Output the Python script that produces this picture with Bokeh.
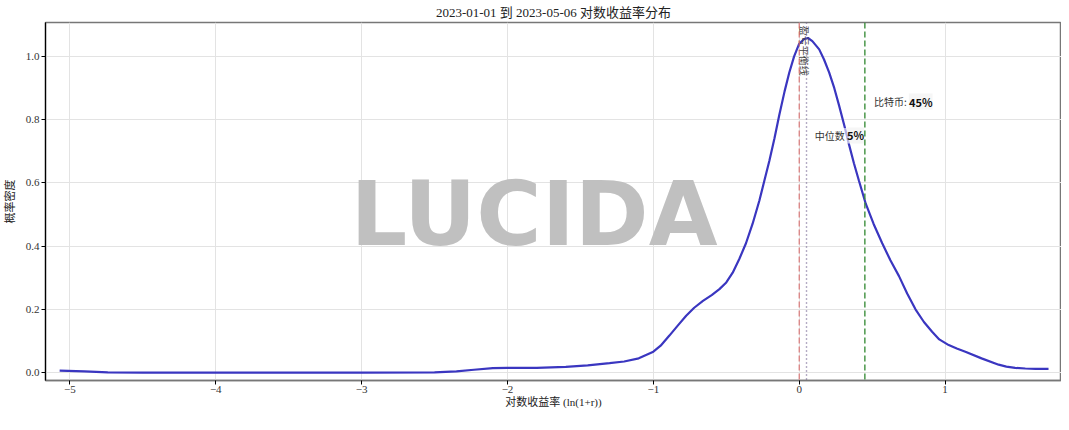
import math
from bokeh.plotting import figure
from bokeh.models import Range1d, Span, FixedTicker, Title
from bokeh.core.properties import value
from bokeh.embed import file_html
from bokeh.resources import INLINE

# ---- data ----
kde_x = [-5.07, -4.9, -4.74, -4.5, -4.0, -3.5, -3.0, -2.5, -2.35, -2.23, -2.1, -2.0,
         -1.8, -1.6, -1.45, -1.3, -1.2, -1.1, -1.0, -0.95, -0.89, -0.83, -0.775, -0.72,
         -0.66, -0.6, -0.547, -0.5, -0.456, -0.41, -0.365, -0.32, -0.273, -0.24, -0.205,
         -0.17, -0.137, -0.1, -0.068, -0.035, 0.0, 0.034, 0.06, 0.09, 0.137, 0.17, 0.205,
         0.24, 0.273, 0.31, 0.342, 0.375, 0.41, 0.456, 0.51, 0.569, 0.625, 0.684, 0.74,
         0.797, 0.855, 0.911, 0.96, 1.025, 1.08, 1.139, 1.25, 1.367, 1.42, 1.48, 1.55,
         1.62, 1.709]
kde_y = [0.006, 0.004, 0.001, 0.0, 0.0, 0.0, 0.0, 0.001, 0.004, 0.009, 0.014, 0.015,
         0.015, 0.018, 0.023, 0.03, 0.035, 0.045, 0.066, 0.085, 0.117, 0.15, 0.18, 0.205,
         0.227, 0.245, 0.264, 0.285, 0.316, 0.36, 0.409, 0.47, 0.544, 0.605, 0.669,
         0.74, 0.814, 0.89, 0.949, 1.0, 1.04, 1.055, 1.058, 1.048, 1.022, 0.99, 0.949,
         0.9, 0.845, 0.78, 0.72, 0.662, 0.606, 0.534, 0.47, 0.409, 0.355, 0.305, 0.25,
         0.2, 0.16, 0.129, 0.105, 0.087, 0.076, 0.066, 0.045, 0.025, 0.019, 0.015, 0.013,
         0.012, 0.012]
breakeven = 0.0
median_ret = 0.05
btc_ret = 0.45
median_label = "5%"
btc_label = "45%"
x_ticks = [-5, -4, -3, -2, -1, 0, 1]
y_ticks = [0.0, 0.2, 0.4, 0.6, 0.8, 1.0]

title_text = "2023-01-01 到 2023-05-06 对数收益率分布"
xlabel = "对数收益率 (ln(1+r))"
ylabel = "概率密度"

SERIF = "Liberation Serif, Noto Sans CJK SC"
CJK = "Noto Sans CJK SC"

p = figure(width=1061, height=414, output_backend="svg", toolbar_location=None,
           x_range=Range1d(-5.167, 1.798), y_range=Range1d(-0.025, 1.107),
           min_border_left=42, min_border_right=0, min_border_top=19, min_border_bottom=34)

p.title = Title(text=title_text, align="center", text_font=SERIF, text_font_size="13px",
                text_font_style="normal", text_color="#222222", standoff=5, offset=0)

p.background_fill_color = "white"
p.outline_line_color = "#777777"
p.outline_line_width = 1.5

p.xaxis.ticker = FixedTicker(ticks=x_ticks)
p.yaxis.ticker = FixedTicker(ticks=y_ticks)
p.xaxis.major_label_overrides = {t: ("\u2212" + str(abs(t)) if t < 0 else str(t)) for t in x_ticks}
p.yaxis.major_label_overrides = {t: f"{t:.1f}" for t in y_ticks}
for ax in (p.xaxis, p.yaxis):
    ax.minor_tick_line_color = None
    ax.major_tick_out = 4
    ax.major_tick_in = 0
    ax.major_label_text_font = SERIF
    ax.major_label_text_font_size = "11px"
    ax.major_label_text_color = "#333333"
    ax.axis_label_text_font = SERIF
    ax.axis_label_text_font_size = "11px"
    ax.axis_label_text_font_style = "normal"
    ax.axis_label_text_color = "#222222"
p.xaxis.axis_label = xlabel
p.yaxis.axis_label = ylabel
p.xaxis.axis_line_color = "#777777"
p.xaxis.axis_line_width = 1.5
p.yaxis.axis_line_color = "black"
p.yaxis.axis_line_width = 1.2
p.xaxis.major_label_standoff = 1
p.yaxis.major_label_standoff = 2
p.xaxis.axis_label_standoff = 0
p.yaxis.axis_label_standoff = 7

p.xgrid.grid_line_color = "#e3e3e3"
p.ygrid.grid_line_color = "#e3e3e3"

# watermark
p.text(x=[-1.818], y=[0.502], text=["LUCIDA"], text_font=value("DejaVu Sans"),
       text_font_style="bold", text_font_size="89px", text_color="#c0c0c0",
       text_align="center", text_baseline="middle")

# vertical reference lines
p.add_layout(Span(location=breakeven, dimension="height", line_color="#d66a6a",
                  line_dash="6 3", line_width=1.2, line_alpha=0.9))
p.add_layout(Span(location=median_ret, dimension="height", line_color="#6a5a8a",
                  line_dash="1 3", line_width=1.4))
p.add_layout(Span(location=btc_ret, dimension="height", line_color="#3d8f3d",
                  line_dash="6 3", line_width=1.4))

# KDE curve
p.line(kde_x, kde_y, line_color="#3a36c0", line_width=2.2)

# break-even label (vertical)
p.text(x=[breakeven + 0.034], y=[1.097], text=["盈亏平衡线"], text_font=value(CJK),
       text_font_size="10px", text_color="#444444", angle=-math.pi / 2,
       text_align="left", text_baseline="middle")

# median label
p.text(x=[0.328], y=[0.75], text=["中位数 "], text_font=value(CJK),
       text_font_size="10px", text_color="#333333", text_align="right",
       text_baseline="middle", background_fill_color="white", background_fill_alpha=0.6)
p.text(x=[0.328], y=[0.75], text=[median_label], text_font=value(CJK),
       text_font_size="11px", text_font_style="bold", text_color="#111111",
       text_align="left", text_baseline="middle",
       background_fill_color="#f2f2f2", background_fill_alpha=0.7)

# bitcoin label
p.text(x=[0.752], y=[0.857], text=["比特币: "], text_font=value(CJK),
       text_font_size="10px", text_color="#333333", text_align="right",
       text_baseline="middle", background_fill_color="white", background_fill_alpha=0.6)
p.text(x=[0.752], y=[0.857], text=[btc_label], text_font=value(CJK),
       text_font_size="11px", text_font_style="bold", text_color="#111111",
       text_align="left", text_baseline="middle",
       background_fill_color="#f2f2f2", background_fill_alpha=0.7)

open("out.html", "w").write(file_html(p, INLINE))
